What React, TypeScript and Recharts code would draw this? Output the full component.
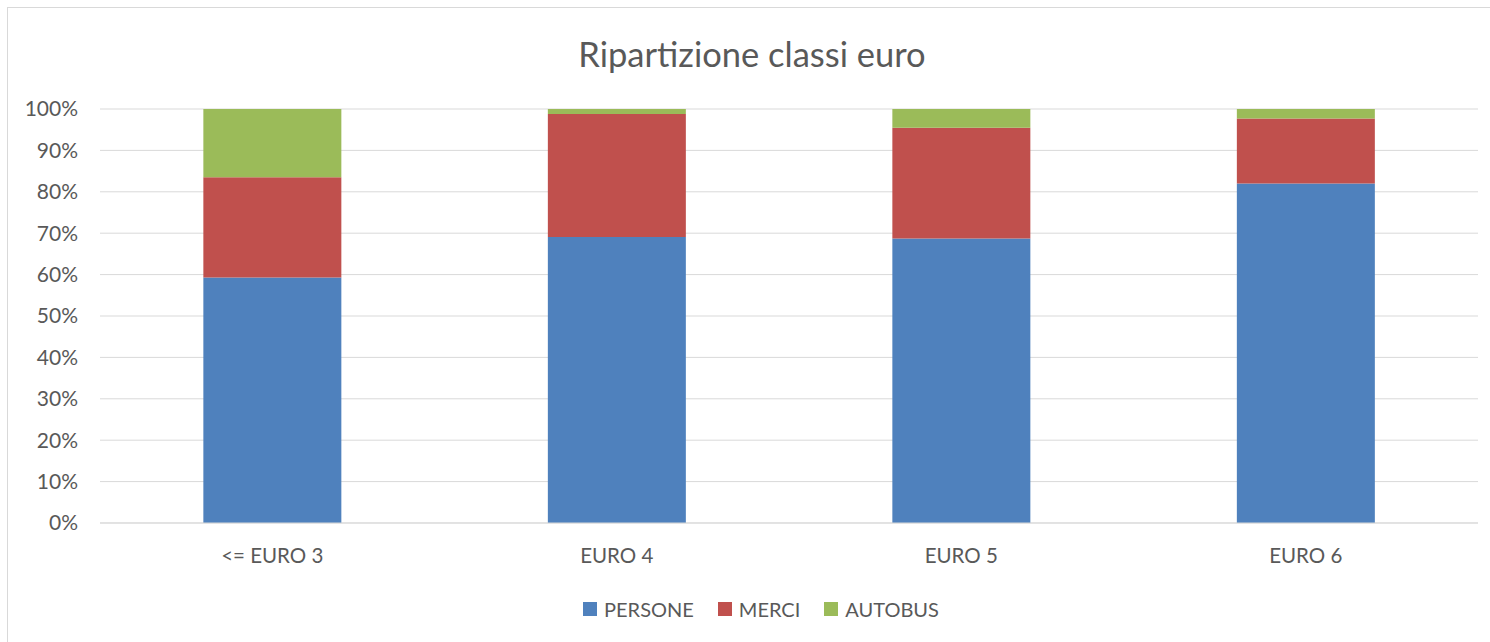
import { BarChart, Bar, XAxis, YAxis, CartesianGrid, Legend } from "recharts";

const categories = ["<= EURO 3", "EURO 4", "EURO 5", "EURO 6"];
const persone = [59.3, 69.1, 68.7, 82.0];
const merci = [24.2, 29.7, 26.8, 15.7];
const autobus = [16.5, 1.2, 4.5, 2.3];
const yTicks = [0, 10, 20, 30, 40, 50, 60, 70, 80, 90, 100];

const series = [
  { key: "persone", name: "PERSONE", color: "#4F81BD" },
  { key: "merci", name: "MERCI", color: "#C0504D" },
  { key: "autobus", name: "AUTOBUS", color: "#9BBB59" },
];

const data = categories.map((cat, i) => ({
  cat,
  persone: persone[i],
  merci: merci[i],
  autobus: autobus[i],
}));

const FONT = "Lato, 'Open Sans', sans-serif";
const TEXT = "#595959";
const GRID = "#d9d9d9";

function LegendContent() {
  return (
    <div
      style={{
        display: "flex",
        justifyContent: "center",
        gap: 24,
        paddingLeft: 36,
        fontFamily: FONT,
        fontSize: 20,
        color: TEXT,
        lineHeight: "24px",
      }}
    >
      {series.map((s) => (
        <div key={s.key} style={{ display: "flex", alignItems: "center", gap: 7 }}>
          <span style={{ width: 14, height: 14, background: s.color, display: "inline-block" }} />
          <span>{s.name}</span>
        </div>
      ))}
    </div>
  );
}

export default function App() {
  return (
    <div
      style={{
        position: "absolute",
        left: 7,
        top: 7,
        width: 1490,
        height: 640,
        border: `1px solid ${GRID}`,
        background: "#fff",
        boxSizing: "border-box",
      }}
    >
      {/* Title */}
      <div
        style={{
          position: "absolute",
          left: 0,
          right: 0,
          top: 26,
          textAlign: "center",
          fontFamily: FONT,
          fontSize: 34.5,
          color: TEXT,
          lineHeight: "40px",
        }}
      >
        Ripartizione classi euro
      </div>

      <div style={{ position: "absolute", left: 0, top: 0 }}>
        <BarChart
          width={1482}
          height={632}
          data={data}
          margin={{ top: 101, right: 12, left: 0, bottom: 0 }}
          barCategoryGap="30%"
        >
          <CartesianGrid vertical={false} stroke={GRID} strokeWidth={1} />
          <XAxis
            dataKey="cat"
            axisLine={{ stroke: GRID }}
            tickLine={false}
            tickSize={0}
            tickMargin={25}
            height={93}
            tick={{ fill: TEXT, fontSize: 20.5, fontFamily: FONT }}
          />
          <YAxis
            domain={[0, 100]}
            ticks={yTicks}
            width={92}
            axisLine={false}
            tickLine={false}
            tickSize={0}
            tickMargin={22}
            tickFormatter={(v) => `${v}%`}
            tick={{ fill: TEXT, fontSize: 21, fontFamily: FONT }}
          />
          <Legend
            verticalAlign="bottom"
            content={<LegendContent />}
            wrapperStyle={{ bottom: 19 }}
          />
          {series.map((s) => (
            <Bar key={s.key} dataKey={s.key} name={s.name} stackId="a" fill={s.color} isAnimationActive={false} />
          ))}
        </BarChart>
      </div>
    </div>
  );
}
